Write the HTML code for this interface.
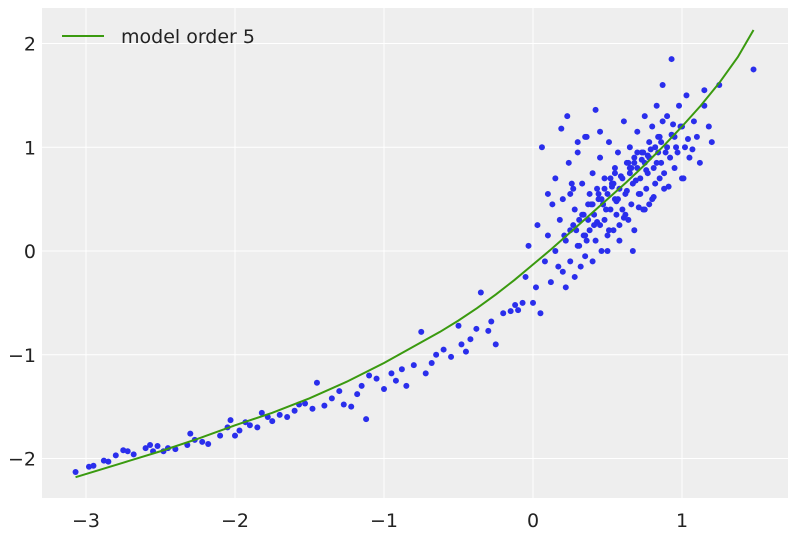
<!DOCTYPE html>
<html><head><meta charset="utf-8">
<style>
body{margin:0;background:#fff;font-family:"Liberation Sans","DejaVu Sans",sans-serif;}
svg text{font-family:"DejaVu Sans","Liberation Sans",sans-serif;}
</style></head>
<body>
<svg id="chart" width="796" height="535" viewBox="0 0 796 535" xmlns="http://www.w3.org/2000/svg">
<rect x="42" y="8" width="746" height="490" fill="#eeeeee"/>
<g id="grid"></g>
<g id="ticks"></g>
<g id="points"></g>
<g id="line"></g>
<g>
<line x1="62" y1="36" x2="104" y2="36" stroke="#3a9a0f" stroke-width="2"/>
<text x="121" y="43" font-size="19" fill="#222">model order 5</text>
</g>
</svg>
<script>
const xTicks=[-3,-2,-1,0,1];
const yTicks=[-2,-1,0,1,2];
const xTickLabels=["−3","−2","−1","0","1"];
const yTickLabels=["−2","−1","0","1","2"];
const lineX=[-3.07,-2.75,-2.5,-2.25,-2,-1.75,-1.5,-1.25,-1,-0.875,-0.75,-0.625,-0.5,-0.375,-0.25,-0.125,0,0.125,0.25,0.375,0.5,0.625,0.75,0.875,1,1.125,1.25,1.375,1.48];
const lineY=[-2.18,-2.04,-1.93,-1.81,-1.68,-1.56,-1.42,-1.26,-1.08,-0.98,-0.88,-0.78,-0.67,-0.55,-0.42,-0.28,-0.13,0.02,0.18,0.34,0.5,0.66,0.83,1.01,1.2,1.4,1.62,1.87,2.13];
const ptX=[-3.07,-2.98,-2.95,-2.88,-2.85,-2.8,-2.75,-2.72,-2.68,-2.6,-2.57,-2.55,-2.52,-2.48,-2.45,-2.4,-2.32,-2.3,-2.27,-2.22,-2.18,-2.1,-2.05,-2.03,-2.0,-1.97,-1.93,-1.9,-1.85,-1.82,-1.78,-1.75,-1.7,-1.65,-1.6,-1.57,-1.53,-1.48,-1.45,-1.4,-1.35,-1.3,-1.27,-1.22,-1.18,-1.15,-1.12,-1.1,-1.05,-1.0,-0.95,-0.92,-0.88,-0.85,-0.8,-0.75,-0.72,-0.68,-0.65,-0.6,-0.55,-0.5,-0.48,-0.45,-0.42,-0.38,-0.35,-0.3,-0.28,-0.25,-0.2,-0.15,-0.12,-0.1,-0.07,-0.05,-0.03,0.0,0.02,0.03,0.05,0.06,0.08,0.1,0.1,
0.12,0.13,0.15,0.15,0.17,0.18,0.2,0.2,0.22,0.22,0.24,0.25,0.25,0.27,0.28,0.28,0.3,0.3,0.31,0.32,0.33,0.34,0.35,0.35,0.36,0.37,0.38,0.38,0.4,0.4,0.41,0.42,0.43,0.44,0.45,0.45,0.46,0.47,0.48,0.48,0.5,0.5,0.51,0.52,0.53,0.54,0.55,0.55,0.56,0.57,0.58,0.58,0.6,0.6,0.61,0.62,0.63,0.64,0.65,0.65,0.66,0.67,0.68,0.68,0.7,0.7,0.71,0.72,0.73,0.74,0.75,0.75,0.76,0.77,0.78,0.78,0.8,0.8,0.81,0.82,0.83,0.84,0.85,0.85,0.86,0.87,0.88,0.9,0.9,0.92,0.93,0.95,0.95,0.97,0.98,1.0,1.0,1.02,1.03,1.05,1.08,1.1,1.12,1.15,1.15,1.18,1.2,1.25,1.48,
0.35,0.42,0.48,0.55,0.62,0.68,0.72,0.78,0.82,0.88,0.45,0.52,0.58,0.65,0.7,0.75,0.3,0.25,0.4,0.5,
0.21,0.26,0.29,0.33,0.36,0.39,0.43,0.46,0.49,0.53,0.56,0.59,0.63,0.66,0.69,0.73,0.76,0.79,0.83,0.86,0.89,0.93,0.96,0.99,1.04,1.07,
0.19,0.23,0.31,0.34,0.41,0.44,0.51,0.54,0.61,0.64,0.71,0.74,0.81,0.84,0.91,0.94,1.01,0.87,0.77,0.57,0.47,0.37,0.27,0.67];
const ptY=[-2.13,-2.08,-2.07,-2.02,-2.03,-1.97,-1.92,-1.93,-1.96,-1.9,-1.87,-1.93,-1.88,-1.93,-1.9,-1.91,-1.87,-1.76,-1.82,-1.84,-1.86,-1.78,-1.7,-1.63,-1.78,-1.73,-1.65,-1.68,-1.7,-1.56,-1.6,-1.64,-1.58,-1.6,-1.54,-1.48,-1.47,-1.52,-1.27,-1.49,-1.42,-1.35,-1.48,-1.5,-1.38,-1.3,-1.62,-1.2,-1.23,-1.33,-1.18,-1.25,-1.14,-1.3,-1.1,-0.78,-1.18,-1.08,-1.0,-0.95,-1.02,-0.72,-0.9,-0.97,-0.85,-0.75,-0.4,-0.77,-0.68,-0.9,-0.6,-0.58,-0.52,-0.57,-0.5,-0.25,0.05,-0.5,-0.35,0.25,-0.6,1.0,-0.1,0.15,0.55,
-0.3,0.45,0.0,0.7,-0.15,0.3,-0.2,0.5,0.1,-0.35,0.85,0.2,-0.1,0.6,0.4,-0.25,0.05,0.95,0.3,-0.15,0.65,0.35,0.15,-0.05,1.1,0.45,0.2,0.55,-0.1,0.75,0.35,0.1,0.6,0.5,0.25,0.9,0.0,0.45,0.7,0.3,0.55,0.15,1.05,0.4,0.65,0.2,0.8,0.5,0.35,0.95,0.6,0.1,0.7,0.4,1.25,0.55,0.85,0.3,0.75,1.0,0.45,0.65,0.9,0.2,0.8,1.15,0.55,0.7,0.95,0.4,0.85,1.3,0.6,0.75,1.05,0.9,0.5,1.2,0.8,0.65,1.4,0.95,0.7,1.1,0.85,1.6,0.75,1.0,1.3,0.9,1.85,0.8,1.1,0.95,1.4,0.7,1.2,1.0,1.5,0.9,1.25,1.1,0.85,1.4,1.55,1.2,1.05,1.6,1.75,1.1,1.36,
0.6,0.75,0.35,0.85,0.55,0.45,1.0,0.6,1.15,0.7,0.25,0.8,0.95,0.4,1.05,0.55,0.45,0.0,0.15,0.65,
0.2,0.35,0.1,0.45,0.28,0.5,0.4,0.62,0.48,0.72,0.58,0.8,0.68,0.88,0.78,0.98,0.85,1.05,0.95,1.12,1.0,1.2,1.08,0.98,1.18,1.3,
0.05,0.15,0.25,0.55,0.2,0.65,0.32,0.85,0.42,0.95,0.52,1.1,0.62,1.22,0.7,1.25,0.92,0.5,0.45,0.3,0.25,0.0,-0.05,0.5];
const X0=533,XS=149,Y0=251,YS=103.75;
const sx=v=>X0+XS*v, sy=v=>Y0-YS*v;
const NS="http://www.w3.org/2000/svg";
const grid=document.getElementById('grid'),ticks=document.getElementById('ticks');
xTicks.forEach((t,i)=>{
 const l=document.createElementNS(NS,'line');
 
 
 l.setAttribute('x1',sx(t));l.setAttribute('x2',sx(t));l.setAttribute('y1',8);l.setAttribute('y2',498);
 l.setAttribute('stroke','#fff');l.setAttribute('stroke-width','1');grid.appendChild(l);
 const tx=document.createElementNS(NS,'text');
 
 
 tx.setAttribute('x',sx(t));tx.setAttribute('y',527);tx.setAttribute('text-anchor','middle');
 tx.setAttribute('font-size','19');tx.setAttribute('fill','#222');tx.textContent=xTickLabels[i];ticks.appendChild(tx);
});
yTicks.forEach((t,i)=>{
 const l=document.createElementNS(NS,'line');
 
 
 l.setAttribute('x1',42);l.setAttribute('x2',788);l.setAttribute('y1',sy(t));l.setAttribute('y2',sy(t));
 l.setAttribute('stroke','#fff');l.setAttribute('stroke-width','1');grid.appendChild(l);
 const tx=document.createElementNS(NS,'text');
 
 
 tx.setAttribute('x',36);tx.setAttribute('y',sy(t)+7);tx.setAttribute('text-anchor','end');
 tx.setAttribute('font-size','19');tx.setAttribute('fill','#222');tx.textContent=yTickLabels[i];ticks.appendChild(tx);
});
const pts=document.getElementById('points');
ptX.forEach((x,i)=>{
 const c=document.createElementNS(NS,'circle');
 
 
 c.setAttribute('cx',sx(x));c.setAttribute('cy',sy(ptY[i]));c.setAttribute('r','3');c.setAttribute('fill','#2a2eec');
 pts.appendChild(c);
});
const p=document.createElementNS(NS,'polyline');


p.setAttribute('points',lineX.map((x,i)=>sx(x)+','+sy(lineY[i])).join(' '));
p.setAttribute('fill','none');p.setAttribute('stroke','#3a9a0f');p.setAttribute('stroke-width','2');
document.getElementById('line').appendChild(p);
</script>
</body></html>
